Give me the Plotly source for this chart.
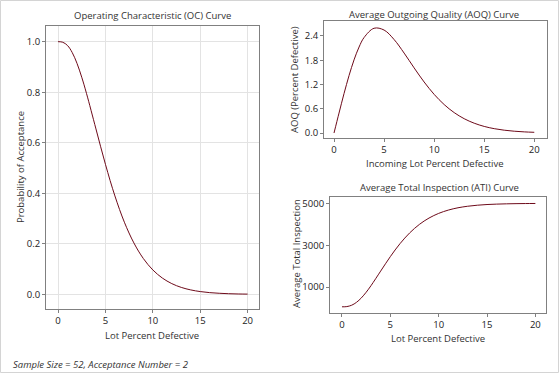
import plotly.graph_objects as go

# Lot percent defective (x values)
pct_defective = [0, 0.5, 1, 1.5, 2, 2.5, 3, 4, 5, 6, 7, 8, 9, 10, 11, 12, 13, 14, 15, 16, 17, 18, 19, 20]
# Probability of acceptance (OC)
prob_accept = [1.0, 0.9977, 0.9847, 0.9567, 0.9141, 0.8592, 0.7954, 0.6546, 0.5146, 0.3894, 0.2854,
               0.2035, 0.1417, 0.0966, 0.0646, 0.0425, 0.0275, 0.0175, 0.0110, 0.0068, 0.0042,
               0.0025, 0.0015, 0.0009]
# AOQ (percent defective)
aoq_pct = [0.0, 0.494, 0.975, 1.420, 1.809, 2.126, 2.361, 2.591, 2.546, 2.312, 1.977,
           1.611, 1.262, 0.956, 0.704, 0.505, 0.354, 0.243, 0.163, 0.108, 0.070,
           0.045, 0.028, 0.018]
# Average total inspection
ati_vals = [52, 63, 128, 266, 477, 749, 1064, 1761, 2454, 3073, 3588, 3993, 4299, 4522,
            4680, 4790, 4864, 4913, 4946, 4966, 4979, 4988, 4993, 4996]

oc_yticks = [0.0, 0.2, 0.4, 0.6, 0.8, 1.0]
aoq_yticks = [0.0, 0.6, 1.2, 1.8, 2.4]
ati_yticks = [1000, 3000, 5000]
x_ticks = [0, 5, 10, 15, 20]

W, H = 559, 373
LINE = "#6e0a1a"
FRAME = "#808080"
FONT = "Open Sans"
TXT = "#333333"

def px(x):
    return x / W

def py(y):
    return 1 - y / H

fig = go.Figure()
fig.add_trace(go.Scatter(x=pct_defective, y=prob_accept, mode="lines", line=dict(color=LINE, width=1, shape="spline"),
                         xaxis="x", yaxis="y", showlegend=False))
fig.add_trace(go.Scatter(x=pct_defective, y=aoq_pct, mode="lines", line=dict(color=LINE, width=1, shape="spline"),
                         xaxis="x2", yaxis="y2", showlegend=False))
fig.add_trace(go.Scatter(x=pct_defective, y=ati_vals, mode="lines", line=dict(color=LINE, width=1, shape="spline"),
                         xaxis="x3", yaxis="y3", showlegend=False))

common = dict(showline=True, mirror=True, linecolor=FRAME, linewidth=1, ticks="outside", ticklen=3,
              tickcolor=FRAME, zeroline=False, tickfont=dict(family=FONT, size=9.5, color="#222"))

fig.update_layout(
    width=W, height=H, margin=dict(l=0, r=0, t=0, b=0),
    paper_bgcolor="white", plot_bgcolor="white",
    font=dict(family=FONT, size=10, color=TXT),
    xaxis=dict(domain=[px(46), px(259)], range=[-1.27, 21.2], tickvals=x_ticks, showgrid=True,
               gridcolor="#e3e3e3", anchor="y", **common),
    yaxis=dict(domain=[py(309), py(26)], range=[-0.058, 1.062], tickvals=oc_yticks, tickformat=".1f",
               showgrid=True, gridcolor="#e3e3e3", anchor="x", **common),
    xaxis2=dict(domain=[px(324), px(547)], range=[-1.0, 21.27], tickvals=x_ticks, showgrid=False,
                anchor="y2", **common),
    yaxis2=dict(domain=[py(138), py(21)], range=[-0.123, 2.77], tickvals=aoq_yticks, tickformat=".1f",
                showgrid=False, anchor="x2", **common),
    xaxis3=dict(domain=[px(330), px(546)], range=[-1.24, 21.1], tickvals=x_ticks, showgrid=False,
                anchor="y3", **common),
    yaxis3=dict(domain=[py(313), py(197)], range=[-244, 5306], tickvals=ati_yticks, showgrid=False,
                anchor="x3", **common),
)

def ann(text, x, y, size=10, angle=0, italic=False, xanchor="center"):
    fig.add_annotation(text=f"<i>{text}</i>" if italic else text, x=px(x), y=py(y), xref="paper", yref="paper",
                       showarrow=False, textangle=angle, xanchor=xanchor, yanchor="middle",
                       font=dict(family=FONT, size=size, color=TXT))

ann("Operating Characteristic (OC) Curve", 152, 15, 9.5)
ann("Average Outgoing Quality (AOQ) Curve", 434, 14, 9.5)
ann("Average Total Inspection (ATI) Curve", 439, 187, 9.5)
ann("Lot Percent Defective", 152, 335, 9.5)
ann("Incoming Lot Percent Defective", 435, 163, 9.5)
ann("Lot Percent Defective", 438, 338, 9.5)
ann("Probability of Acceptance", 20, 167, 9.5, angle=-90)
ann("AOQ (Percent Defective)", 294, 80, 9.5, angle=-90)
ann("Average Total Inspection", 296, 254, 9.5, angle=-90)
ann("Sample Size = 52, Acceptance Number = 2", 11, 364, 9.5, italic=True, xanchor="left")

fig.add_shape(type="rect", xref="paper", yref="paper", x0=0.0009, y0=0.0013, x1=0.9991, y1=0.9987,
              line=dict(color="#d4d4d4", width=1), fillcolor="rgba(0,0,0,0)")

fig.write_html("out.html", config={"displayModeBar": False},
               post_script="document.body.style.margin='0';document.body.style.overflow='hidden';")
